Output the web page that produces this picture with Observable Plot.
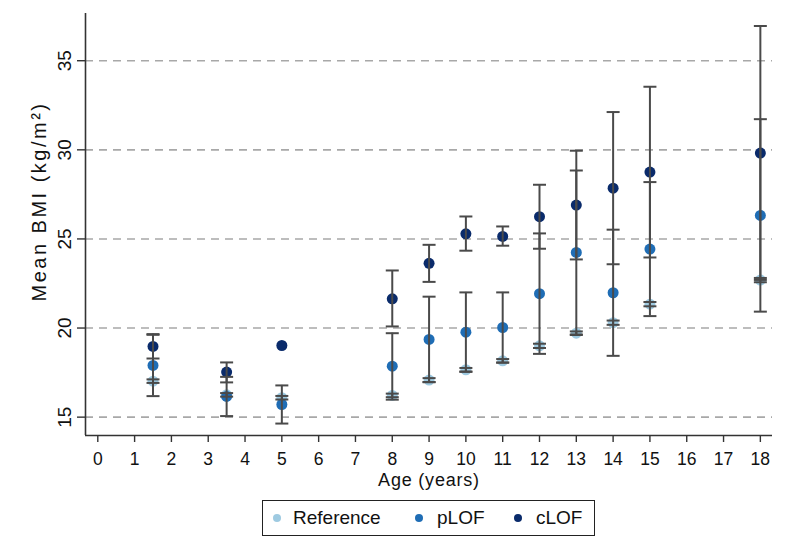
<!DOCTYPE html>
<html>
<head>
<meta charset="utf-8">
<script src="https://cdn.jsdelivr.net/npm/d3@7"></script>
<script src="https://cdn.jsdelivr.net/npm/@observablehq/plot@0.6"></script>
<style>
  body { margin: 0; background: #fff; font-family: Arial, "Liberation Sans", sans-serif; }
  #wrap { position: relative; width: 800px; height: 554px; background: #fff; overflow: hidden; }
  #chart { position: absolute; left: 0; top: 0; }
  #legend { position: absolute; left: 262px; top: 500px; width: 331px; height: 34px;
            border: 1px solid #222; box-sizing: content-box; font-size: 19px; color: #111; }
  .sw { position: absolute; width: 8px; height: 8px; border-radius: 50%; top: 13px; }
  .lb { position: absolute; top: 0; line-height: 34px; white-space: nowrap; }
</style>
</head>
<body>
<div id="wrap">
  <div id="chart"></div>
  <div id="legend"></div>
</div>
<script>
// ---- data ----
const ages = [1.5, 3.5, 5, 8, 9, 10, 11, 12, 13, 14, 15, 18];

const refMean = [17.02, 16.25, 16.09, 16.22, 17.08, 17.66, 18.16, 19.00, 19.71, 20.30, 21.34, 22.69];
const refLo   = [16.92, 16.15, 15.99, 16.12, 16.97, 17.56, 18.06, 18.88, 19.61, 20.18, 21.22, 22.57];
const refHi   = [17.12, 16.35, 16.19, 16.32, 17.19, 17.76, 18.26, 19.12, 19.81, 20.42, 21.46, 22.81];

const pMean = [17.90, 16.16, 15.71, 17.86, 19.36, 19.77, 20.03, 21.93, 24.24, 21.98, 24.43, 26.32];
const pLo   = [16.18, 15.06, 14.64, 15.98, 16.96, 17.54, 18.06, 18.55, 19.64, 18.44, 20.67, 20.92];
const pHi   = [19.62, 17.26, 16.78, 19.71, 21.76, 22.00, 22.00, 25.31, 28.84, 25.52, 28.19, 31.72];

const cMean = [18.97, 17.53, 19.02, 21.64, 23.63, 25.29, 25.14, 26.25, 26.90, 27.85, 28.75, 29.82];
const cLo   = [18.29, 16.95, null, 20.09, 22.59, 24.34, 24.62, 24.45, 23.85, 23.58, 23.96, 22.70];
const cHi   = [19.66, 18.07, null, 23.23, 24.67, 26.26, 25.70, 28.04, 29.95, 32.12, 33.54, 36.95];

const seriesNames = ["Reference", "pLOF", "cLOF"];
const seriesColors = ["#9ecae1", "#1f6db5", "#0a2b6b"];

const xTicks = d3.range(0, 19);          // 0 … 18
const yTicks = [15, 20, 25, 30, 35];
const xDomain = [-0.334, 18.33];
const yDomain = [13.97, 37.65];
const xLabel = "Age (years)";
const yLabel = "Mean BMI (kg/m²)";

// ---- build table ----
const rows = [];
const sets = [[refMean, refLo, refHi], [pMean, pLo, pHi], [cMean, cLo, cHi]];
sets.forEach(([m, lo, hi], s) => {
  ages.forEach((a, i) => {
    rows.push({series: seriesNames[s], age: a, mean: m[i], lo: lo[i], hi: hi[i]});
  });
});
const bars = rows.filter(d => d.lo != null && d.hi != null);
const caps = bars.flatMap(d => [{age: d.age, v: d.lo}, {age: d.age, v: d.hi}]);

// horizontal-line symbol for the error bar caps
const capSymbol = {
  draw(ctx, size) {
    const r = Math.sqrt(size / Math.PI);
    ctx.moveTo(-r, 0);
    ctx.lineTo(r, 0);
  }
};

const axisColor = "#333";
const barColor = "#4a4a4a";

const plot = Plot.plot({
  width: 800,
  height: 492,
  marginLeft: 85,
  marginRight: 28,
  marginTop: 13,
  marginBottom: 57,
  style: {fontFamily: "Arial, 'Liberation Sans', sans-serif", fontSize: "17px", color: "#111", background: "#fff"},
  x: {domain: xDomain},
  y: {domain: yDomain},
  color: {domain: seriesNames, range: seriesColors},
  marks: [
    Plot.ruleY(yTicks, {stroke: "#a8a8a8", strokeWidth: 1.6, strokeDasharray: "8 6"}),
    Plot.ruleX([xDomain[0]], {stroke: axisColor, strokeWidth: 1.6}),
    Plot.ruleY([yDomain[0]], {stroke: axisColor, strokeWidth: 1.6}),
    Plot.axisX({ticks: xTicks, tickSize: 7, tickPadding: 10, label: null, stroke: axisColor, strokeWidth: 1.4, fontSize: 17.5}),
    Plot.axisY({ticks: yTicks, tickSize: 8, tickPadding: 7, tickRotate: -90, label: null, stroke: axisColor, strokeWidth: 1.4, fontSize: 19}),
    Plot.text([xLabel], {frameAnchor: "bottom", dy: 50, lineAnchor: "bottom", textAnchor: "middle", fontSize: 18, fill: "#111"}),
    Plot.text([yLabel], {frameAnchor: "left", dx: -40, dy: -23, rotate: -90, lineAnchor: "bottom", textAnchor: "middle", fontSize: 20, fill: "#111"}),
    Plot.dot(rows, {x: "age", y: "mean", fill: "series", r: 5.5, stroke: null}),
    Plot.ruleX(bars, {x: "age", y1: "lo", y2: "hi", stroke: barColor, strokeWidth: 2}),
    Plot.dot(caps, {x: "age", y: "v", symbol: capSymbol, r: 6.5, fill: "none", stroke: barColor, strokeWidth: 2})
  ]
});
document.getElementById("chart").appendChild(plot);

// widen axis titles slightly to match the reference lettering
d3.select(plot).selectAll("text").each(function() {
  const t = this.textContent;
  if (t === xLabel) this.style.letterSpacing = "0.8px";
  if (t === yLabel) this.style.letterSpacing = "2.5px";
});

// ---- legend ----
const legend = document.getElementById("legend");
const swX = [10, 152, 251];
const lbX = [30, 174, 273];
seriesNames.forEach((name, i) => {
  const sw = document.createElement("div");
  sw.className = "sw";
  sw.style.left = swX[i] + "px";
  sw.style.background = seriesColors[i];
  legend.appendChild(sw);
  const lb = document.createElement("div");
  lb.className = "lb";
  lb.style.left = lbX[i] + "px";
  lb.textContent = name;
  legend.appendChild(lb);
});
</script>
</body>
</html>
